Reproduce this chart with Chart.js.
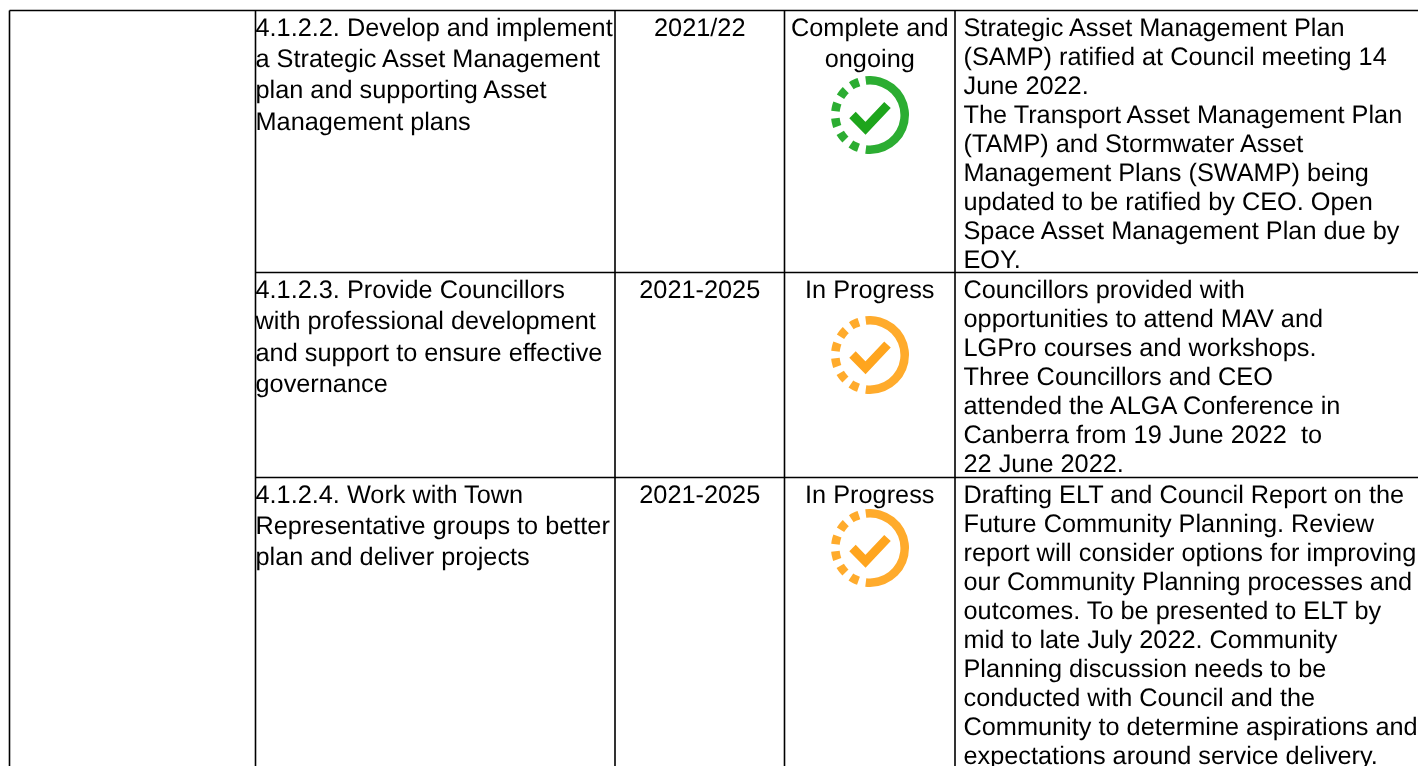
<!DOCTYPE html>
<html>
<head>
<meta charset="utf-8">
<title>Asset management actions</title>
<script src="https://cdn.jsdelivr.net/npm/chart.js@4"></script>
<style>
    html, body { margin: 0; padding: 0; background: #fff; overflow: hidden; }
    #wrap { position: relative; width: 1418px; height: 766px; }
    #wrap canvas { position: absolute; }
</style>
</head>
<body>
<div id="wrap">
    <canvas id="table" width="1418" height="766"></canvas>
    <canvas id="ring0" width="78" height="78"></canvas>
    <canvas id="ring1" width="78" height="78"></canvas>
    <canvas id="ring2" width="78" height="78"></canvas>
</div>
<script>
// Table content
const actions = [
    ["4.1.2.2. Develop and implement", "a Strategic Asset Management", "plan and supporting Asset", "Management plans"],
    ["4.1.2.3. Provide Councillors", "with professional development", "and support to ensure effective", "governance"],
    ["4.1.2.4. Work with Town", "Representative groups to better", "plan and deliver projects"],
];
const years = ["2021/22", "2021-2025", "2021-2025"];
const statuses = [["Complete and", "ongoing"], ["In Progress"], ["In Progress"]];
const comments = [
    ["Strategic Asset Management Plan", "(SAMP) ratified at Council meeting 14", "June 2022.", "The Transport Asset Management Plan", "(TAMP) and Stormwater Asset", "Management Plans (SWAMP) being", "updated to be ratified by CEO. Open", "Space Asset Management Plan due by", "EOY."],
    ["Councillors provided with", "opportunities to attend MAV and", "LGPro courses and workshops.", "Three Councillors and CEO", "attended the ALGA Conference in", "Canberra from 19 June 2022  to", "22 June 2022."],
    ["Drafting ELT and Council Report on the", "Future Community Planning. Review", "report will consider options for improving", "our Community Planning processes and", "outcomes. To be presented to ELT by", "mid to late July 2022. Community", "Planning discussion needs to be", "conducted with Council and the", "Community to determine aspirations and", "expectations around service delivery."],
];

// Table rules, in the chart's x and y units
const columnEdges = [9.5, 255.5, 615, 784.5, 955];
const rowEdges = [10.5, 272.5, 477.5];
const iconCenterX = 869.5;
const iconCenterY = [115, 354.5, 548];

// Status icon: ring segments in degrees, solid arc then gap / dash pairs
const ringSegments = [194, 12.4, 14, 11.6, 14, 11.6, 14, 11.6, 14, 11.6, 14, 11.6, 14, 11.6];
const checkOffsetX = [-17, -4, 18];
const checkOffsetY = [0, 13.3, -10];

const ringColors = ["#2cad32", "#ffab2c", "#ffab2c"];
const checkColors = ["#1ea51c", "#ffa51e", "#ffa51e"];

const FONT = '"Liberation Sans", Arial, sans-serif';
const RIGHT = 1418;
const BOTTOM = 766;

function ruleDatasets() {
    const rules = [];
    columnEdges.forEach((x) => {
        rules.push([{ x: x, y: rowEdges[0] }, { x: x, y: BOTTOM }]);
    });
    rowEdges.forEach((y, i) => {
        rules.push([{ x: i === 0 ? columnEdges[0] : columnEdges[1], y: y }, { x: RIGHT, y: y }]);
    });
    return rules.map((points) => ({
        data: points,
        borderColor: "#000",
        borderWidth: 1.6,
        pointRadius: 0,
        showLine: true,
    }));
}

function checkDatasets() {
    return iconCenterY.map((cy, i) => ({
        data: checkOffsetX.map((dx, j) => ({ x: iconCenterX + dx, y: cy + checkOffsetY[j] })),
        borderColor: checkColors[i],
        borderWidth: 9,
        borderJoinStyle: "miter",
        borderCapStyle: "butt",
        pointRadius: 0,
        showLine: true,
        tension: 0,
    }));
}

// Draw the cell text at positions taken from the chart's scales
const cellText = {
    id: "cellText",
    afterDatasetsDraw(chart) {
        const { ctx, scales } = chart;
        const block = (lines, x, top, pitch, align) => {
            ctx.textAlign = align;
            lines.forEach((line, i) => {
                ctx.fillText(line, scales.x.getPixelForValue(x), scales.y.getPixelForValue(top + i * pitch));
            });
        };
        ctx.save();
        ctx.fillStyle = "#000";
        ctx.textBaseline = "alphabetic";
        ctx.textRendering = "geometricPrecision";
        ctx.font = `25.3px ${FONT}`;
        const rowTops = [35.5, 298, 502.5];
        const commentTops = [36.3, 298, 502.5];
        const actionPitch = 31.4;
        const commentPitch = [28.9, 29, 29.1];
        rowTops.forEach((top, i) => {
            block(actions[i], 255.5, top, actionPitch, "left");
            block([years[i]], (columnEdges[2] + columnEdges[3]) / 2, top, actionPitch, "center");
            block(statuses[i], (columnEdges[3] + columnEdges[4]) / 2, top, actionPitch, "center");
            block(comments[i], 963.5, commentTops[i], commentPitch[i], "left");
        });
        ctx.restore();
    },
};

function initTable() {
    new Chart(document.getElementById("table"), {
        type: "scatter",
        data: { datasets: [...ruleDatasets(), ...checkDatasets()] },
        options: {
            responsive: false,
            animation: false,
            events: [],
            layout: { padding: 0 },
            clip: false,
            scales: {
                x: { type: "linear", display: false, min: 0, max: RIGHT },
                y: { type: "linear", display: false, min: 0, max: BOTTOM, reverse: true },
            },
            plugins: { legend: { display: false }, tooltip: { enabled: false } },
        },
        plugins: [cellText],
    });
}

function initRing(index) {
    const canvas = document.getElementById("ring" + index);
    canvas.style.left = iconCenterX - 39 + "px";
    canvas.style.top = iconCenterY[index] - 39 + "px";
    new Chart(canvas, {
        type: "doughnut",
        data: {
            datasets: [{
                data: ringSegments,
                backgroundColor: ringSegments.map((v, i) => (i % 2 === 0 ? ringColors[index] : "rgba(0,0,0,0)")),
                borderWidth: 0,
            }],
        },
        options: {
            responsive: false,
            animation: false,
            events: [],
            rotation: -7,
            cutout: "78%",
            plugins: { legend: { display: false }, tooltip: { enabled: false } },
        },
    });
}

initTable();
iconCenterY.forEach((cy, i) => initRing(i));
</script>
</body>
</html>
